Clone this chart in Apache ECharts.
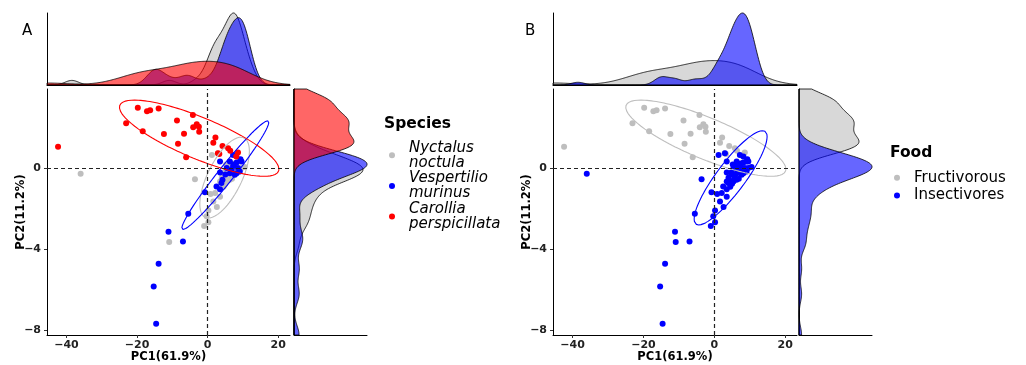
<!DOCTYPE html>
<html>
<head>
<meta charset="utf-8">
<script src="https://cdn.jsdelivr.net/npm/echarts@6/dist/echarts.min.js"></script>
<style>
  html, body { margin: 0; background: #fff; }
  #chart { width: 1026px; height: 365px; }
</style>
</head>
<body>
<div id="chart"></div>
<script>
// PCA scores (PC1, PC2) per species
const speciesNames = ["Nyctalus noctula", "Vespertilio murinus", "Carollia perspicillata"];
const foodNames = ["Fructivorous", "Insectivores"];

const nyctalusPC1 = [-36.0, -10.9, -3.6, -1.0, 0.2, 0.2, -0.3, 0.8, 1.6, 2.1, 3.5, 3.5, 5.4, 5.8, 6.3, 7.2, 1.2, 3.0, 8.2, 9.1, 9.6, 10.5, 4.5, 2.6, 6.8,
  4.8, 5.6, 6.0, 6.6, 7.4, 5.2, 4.0, 6.9, 7.9, 5.0];
const nyctalusPC2 = [-0.26, -3.63, -0.53, -2.84, -2.66, -2.08, -2.36, -1.26, -1.63, -1.21, -1.40, -0.64, -0.64, -0.47, -0.56, -0.06, 0.67, 0.76, 0.59, 0.35, 0.02, 0.07, -0.90, -1.90, -0.20,
  -0.20, -0.35, 0.10, -0.10, 0.25, 0.20, -0.45, -0.50, 0.00, -0.75];

const vespertilioPC1 = [-14.6, -15.3, -13.9, -11.1, -7.0, -5.5, -0.8, 2.5, 3.5, 4.2, 3.9, 3.5, 5.4, 6.3, 7.2, 6.3, 7.2, 8.2, 8.6, 9.1, 7.7, 8.2, 9.3, 9.6, 3.5, 6.8, 5.0, 7.5];
const vespertilioPC2 = [-7.68, -5.84, -4.71, -3.13, -3.61, -2.24, -1.17, -0.89, -1.02, -0.56, -0.72, -0.20, 0.02, -0.23, 0.67, 0.35, 0.13, 0.30, 0.02, -0.15, -0.31, -0.23, 0.46, 0.35, 0.35, -0.05, -0.30, 0.20];

const carolliaPC1 = [-42.4, -23.1, -19.8, -17.2, -16.3, -13.9, -18.4, -12.4, -8.7, -8.4, -6.7, -6.1, -4.2, -3.1, -2.5, -4.1, -2.4, 2.2, 1.6, 4.2, 2.9, 5.8, 6.4, 8.6, 8.1, 3.3];
const carolliaPC2 = [1.08, 2.24, 3.00, 2.83, 2.88, 2.97, 1.84, 1.71, 2.38, 1.23, 1.72, 0.56, 2.65, 2.19, 2.07, 2.04, 1.82, 1.53, 1.28, 1.12, 0.76, 1.00, 0.88, 0.79, 0.59, 0.72];

// 95% ellipses: centre x, centre y, conjugate semi-diameters (ax, ay), (bx, by)
const nyctalusEllipse = [4.8, -0.45, 4.6, 2.0, 5.3, 0];
const vespertilioEllipse = [5.0, -0.33, 12.0, 2.69, 2.8, 0];
const carolliaEllipse = [-2.4, 1.5, 22.6, -1.53, 0, 1.1];
const insectivoreEllipse = [4.6, -0.46, 9.0, 2.33, 5.0, 0];

// data limits of the axes, ticks
const pc1Limits = [-42.4, 20.2];
const pc2Limits = [-7.68, 3.38];
const pc1Ticks = [-40, -20, 0, 20];
const pc2Ticks = [-8, -4, 0];

const FONT = "DejaVu Sans";
const GREY = "#bebebe", BLUE = "#0000ff", RED = "#ff0000";
const FILL = { grey: "rgba(190,190,190,0.6)", blue: "rgba(0,0,255,0.6)", red: "rgba(255,0,0,0.6)" };

// ggplot-style 5% expansion for the scatter panels
function expand(l) { const d = (l[1] - l[0]) * 0.05; return [l[0] - d, l[1] + d]; }
const pc1Range = expand(pc1Limits);
const pc2Range = expand(pc2Limits);

const zip = (a, b) => a.map((v, i) => [v, b[i]]);

// gaussian kde with R's nrd0 bandwidth
function q7(s, p) {
  const h = (s.length - 1) * p, lo = Math.floor(h);
  return s[lo] + (h - lo) * (s[Math.min(lo + 1, s.length - 1)] - s[lo]);
}
function kde(v, lim) {
  const n = v.length;
  const mean = v.reduce((a, b) => a + b, 0) / n;
  const sd = Math.sqrt(v.reduce((a, b) => a + (b - mean) ** 2, 0) / (n - 1));
  const s = [...v].sort((a, b) => a - b);
  const iqr = q7(s, 0.75) - q7(s, 0.25);
  const bw = 0.9 * Math.min(sd, iqr / 1.34) * Math.pow(n, -0.2);
  const out = [];
  for (let i = 0; i < 300; i++) {
    const x = lim[0] + (lim[1] - lim[0]) * i / 299;
    let d = 0;
    for (const xi of v) d += Math.exp(-0.5 * ((x - xi) / bw) ** 2);
    out.push([x, d / (n * bw * Math.sqrt(2 * Math.PI))]);
  }
  return out;
}

function ellipsePoints(e) {
  const [cx, cy, ax, ay, bx, by] = e;
  const pts = [];
  for (let i = 0; i <= 160; i++) {
    const t = 2 * Math.PI * i / 160;
    pts.push([cx + ax * Math.cos(t) + bx * Math.sin(t), cy + ay * Math.cos(t) + by * Math.sin(t)]);
  }
  return pts;
}

const maxOf = curves => Math.max(...curves.map(c => Math.max(...c.map(p => p[1]))));

// panel A groups: grey, blue, red ; panel B groups: fructivorous (grey), insectivores (blue)
const insectPC1 = nyctalusPC1.concat(vespertilioPC1);
const insectPC2 = nyctalusPC2.concat(vespertilioPC2);

const topA = [kde(nyctalusPC1, pc1Limits), kde(vespertilioPC1, pc1Limits), kde(carolliaPC1, pc1Limits)];
const rightA = [kde(nyctalusPC2, pc2Limits), kde(vespertilioPC2, pc2Limits), kde(carolliaPC2, pc2Limits)];
const topB = [kde(carolliaPC1, pc1Limits), kde(insectPC1, pc1Limits)];
const rightB = [kde(carolliaPC2, pc2Limits), kde(insectPC2, pc2Limits)];

function densitySeries(curve, vertical, fill, axisIndex) {
  const lim = vertical ? pc2Limits : pc1Limits;
  const poly = [[lim[0], 0]].concat(curve, [[lim[1], 0]]);
  return {
    type: "custom", xAxisIndex: axisIndex, yAxisIndex: axisIndex, silent: true,
    data: [[0, 0]],
    renderItem: (params, api) => ({
      type: "polygon",
      shape: { points: poly.map(p => api.coord(vertical ? [p[1], p[0]] : p)) },
      style: { fill: fill, stroke: "#000", lineWidth: 0.8 }
    })
  };
}

function scatterSeries(name, pts, color, axisIndex, dashed) {
  const s = {
    name: name, type: "scatter", xAxisIndex: axisIndex, yAxisIndex: axisIndex,
    data: pts, symbolSize: 6, itemStyle: { color: color, opacity: 1 }, z: 3
  };
  if (dashed) {
    s.markLine = {
      silent: true, symbol: "none", label: { show: false },
      lineStyle: { type: [4, 3], color: "#222", width: 1.2 },
      data: [{ xAxis: 0 }, { yAxis: 0 }]
    };
  }
  return s;
}

function ellipseSeries(e, color, axisIndex) {
  return {
    type: "line", xAxisIndex: axisIndex, yAxisIndex: axisIndex, data: ellipsePoints(e),
    showSymbol: false, silent: true, lineStyle: { color: color, width: 1.1 }, z: 4
  };
}

const fmt = v => String(v).replace("-", "\u2212");
const blackLine = { lineStyle: { color: "#000", width: 1 } };

function scatterAxes(gridIndex) {
  const label = { fontFamily: FONT, fontWeight: "bold", fontSize: 11, color: "#222", formatter: fmt };
  const nameStyle = { fontFamily: FONT, fontWeight: "bold", fontSize: 11.5, color: "#000" };
  return {
    x: {
      type: "value", gridIndex, min: pc1Range[0], max: pc1Range[1],
      name: "PC1(61.9%)", nameLocation: "middle", nameGap: 16, nameMoveOverlap: false,
      nameTextStyle: nameStyle,
      axisLine: { onZero: false, ...blackLine },
      axisTick: { customValues: pc1Ticks, length: 3, lineStyle: { color: "#333" } },
      axisLabel: { customValues: pc1Ticks, margin: 5, ...label },
      splitLine: { show: false }
    },
    y: {
      type: "value", gridIndex, min: pc2Range[0], max: pc2Range[1],
      name: "PC2(11.2%)", nameLocation: "middle", nameRotate: 90, nameGap: 20, nameMoveOverlap: false,
      nameTextStyle: nameStyle,
      axisLine: { onZero: false, ...blackLine },
      axisTick: { customValues: pc2Ticks, length: 3, lineStyle: { color: "#333" } },
      axisLabel: { customValues: pc2Ticks, margin: 6, ...label },
      splitLine: { show: false }
    }
  };
}

function plainAxis(gridIndex, min, max, showLine) {
  return {
    type: "value", gridIndex, min, max,
    axisLine: { show: showLine, onZero: false, ...blackLine },
    axisTick: { show: false }, axisLabel: { show: false }, splitLine: { show: false }
  };
}

const sA = scatterAxes(0), sB = scatterAxes(3);
const topMaxA = maxOf(topA), rightMaxA = maxOf(rightA);
const topMaxB = maxOf(topB), rightMaxB = maxOf(rightB);

const gridBase = { outerBoundsMode: "none", containLabel: false };

const option = {
  animation: false,
  backgroundColor: "#fff",
  textStyle: { fontFamily: FONT },
  grid: [
    { ...gridBase, left: 47, top: 89, width: 243, height: 246 },
    { ...gridBase, left: 47, top: 13, width: 243, height: 72 },
    { ...gridBase, left: 294, top: 89, width: 73, height: 246 },
    { ...gridBase, left: 553, top: 89, width: 244, height: 246 },
    { ...gridBase, left: 553, top: 13, width: 244, height: 72 },
    { ...gridBase, left: 799, top: 89, width: 73, height: 246 }
  ],
  xAxis: [
    sA.x,
    plainAxis(1, pc1Limits[0], pc1Limits[1], true),
    plainAxis(2, 0, rightMaxA, true),
    sB.x,
    plainAxis(4, pc1Limits[0], pc1Limits[1], true),
    plainAxis(5, 0, rightMaxB, true)
  ],
  yAxis: [
    sA.y,
    plainAxis(1, 0, topMaxA, true),
    plainAxis(2, pc2Limits[0], pc2Limits[1], true),
    sB.y,
    plainAxis(4, 0, topMaxB, true),
    plainAxis(5, pc2Limits[0], pc2Limits[1], true)
  ],
  legend: [
    {
      data: speciesNames, orient: "vertical", left: 384, top: 135,
      icon: "circle", itemWidth: 24, itemHeight: 6, itemGap: 0, selectedMode: false,
      formatter: n => n.replace(" ", "\n"),
      textStyle: { fontFamily: FONT, fontSize: 15, fontStyle: "italic", lineHeight: 15.3, color: "#000" }
    },
    {
      data: foodNames, orient: "vertical", left: 889, top: 164,
      icon: "circle", itemWidth: 24, itemHeight: 6, itemGap: 0, selectedMode: false,
      textStyle: { fontFamily: FONT, fontSize: 15, lineHeight: 17.7, color: "#000" }
    }
  ],
  graphic: [
    { type: "text", left: 22, top: 24, style: { text: "A", font: "15px DejaVu Sans", fill: "#000" } },
    { type: "text", left: 525, top: 24, style: { text: "B", font: "15px DejaVu Sans", fill: "#000" } },
    { type: "text", left: 384, top: 116, style: { text: "Species", font: "bold 15.5px DejaVu Sans", fill: "#000" } },
    { type: "text", left: 890, top: 145, style: { text: "Food", font: "bold 15.5px DejaVu Sans", fill: "#000" } }
  ],
  series: [
    // panel A
    densitySeries(topA[0], false, FILL.grey, 1),
    densitySeries(topA[1], false, FILL.blue, 1),
    densitySeries(topA[2], false, FILL.red, 1),
    densitySeries(rightA[0], true, FILL.grey, 2),
    densitySeries(rightA[1], true, FILL.blue, 2),
    densitySeries(rightA[2], true, FILL.red, 2),
    scatterSeries(speciesNames[0], zip(nyctalusPC1, nyctalusPC2), GREY, 0, true),
    scatterSeries(speciesNames[1], zip(vespertilioPC1, vespertilioPC2), BLUE, 0, false),
    scatterSeries(speciesNames[2], zip(carolliaPC1, carolliaPC2), RED, 0, false),
    ellipseSeries(nyctalusEllipse, GREY, 0),
    ellipseSeries(vespertilioEllipse, BLUE, 0),
    ellipseSeries(carolliaEllipse, RED, 0),
    // panel B
    densitySeries(topB[0], false, FILL.grey, 4),
    densitySeries(topB[1], false, FILL.blue, 4),
    densitySeries(rightB[0], true, FILL.grey, 5),
    densitySeries(rightB[1], true, FILL.blue, 5),
    scatterSeries(foodNames[0], zip(carolliaPC1, carolliaPC2), GREY, 3, true),
    scatterSeries(foodNames[1], zip(insectPC1, insectPC2), BLUE, 3, false),
    ellipseSeries(carolliaEllipse, GREY, 3),
    ellipseSeries(insectivoreEllipse, BLUE, 3)
  ]
};

const chart = echarts.init(document.getElementById("chart"));
chart.setOption(option);
</script>
</body>
</html>
